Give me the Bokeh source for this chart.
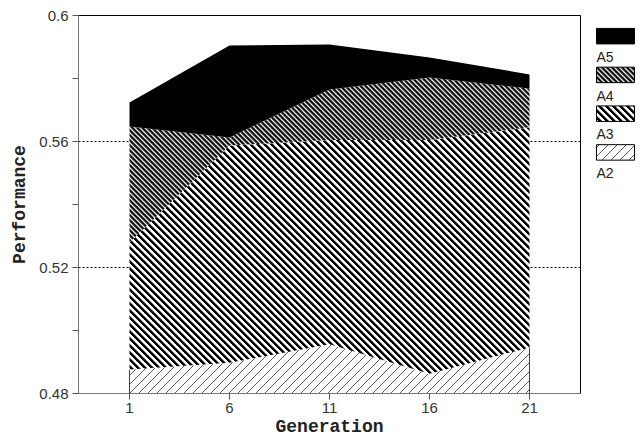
import zlib, struct, base64
from bokeh.plotting import figure
from bokeh.layouts import row
from bokeh.models import Range1d, FixedTicker, ColumnDataSource, ImageURLTexture
from bokeh.core.properties import value
from bokeh.embed import file_html
from bokeh.resources import INLINE

# ---- data ----
generations = [1, 6, 11, 16, 21]
a2 = [0.4876, 0.4898, 0.4956, 0.4863, 0.4946]
a3 = [0.0403, 0.0689, 0.0649, 0.0742, 0.0699]
a4 = [0.0369, 0.0026, 0.0160, 0.0198, 0.0123]
a5 = [0.0076, 0.0292, 0.0143, 0.0064, 0.0045]
series_names = ["A2", "A3", "A4", "A5"]
y_major_ticks = [0.48, 0.52, 0.56, 0.60]
y_minor_ticks = [0.50, 0.54, 0.58]
y_grid_ticks = [0.52, 0.56]

series = {"A2": a2, "A3": a3, "A4": a4, "A5": a5}


# ---- texture tiles (pure-python PNG) ----
def png_uri(pixels):
    h = len(pixels)
    w = len(pixels[0])
    raw = b"".join(b"\x00" + bytes(v for px in r for v in px) for r in pixels)

    def chunk(tag, data):
        c = tag + data
        return struct.pack(">I", len(data)) + c + struct.pack(">I", zlib.crc32(c) & 0xffffffff)

    png = (b"\x89PNG\r\n\x1a\n" + chunk(b"IHDR", struct.pack(">IIBBBBB", w, h, 8, 2, 0, 0, 0))
           + chunk(b"IDAT", zlib.compress(raw)) + chunk(b"IEND", b""))
    return "data:image/png;base64," + base64.b64encode(png).decode()


def diag_tile(period, shades, forward):
    # forward=True -> "/" lines ; False -> "\" lines
    tile = []
    for y in range(period):
        r = []
        for x in range(period):
            k = ((x + y) if forward else (x - y)) % period
            g = shades[k]
            r.append((g, g, g))
        tile.append(r)
    return tile


tex = {
    "A2": ImageURLTexture(url=png_uri(diag_tile(9, [90, 255, 255, 255, 255, 255, 255, 255, 255], True))),
    "A3": ImageURLTexture(url=png_uri(diag_tile(7, [0, 0, 0, 130, 255, 255, 255], False))),
    "A4": ImageURLTexture(url=png_uri(diag_tile(5, [0, 110, 235, 110, 30], False))),
}

# cumulative stacking
tops = {}
bottoms = {}
running = [0.0] * len(generations)
for n in series_names:
    bottoms[n] = list(running)
    running = [r + v for r, v in zip(running, series[n])]
    tops[n] = list(running)


def style(n):
    if n == "A5":
        return dict(fill_color="black")
    return dict(fill_color="white", hatch_pattern=value(n), hatch_extra={n: tex[n]})


p = figure(width=590, height=439, output_backend="svg", toolbar_location=None,
           x_range=Range1d(-1.55, 23.55), y_range=Range1d(0.48, 0.60),
           min_border_left=78, min_border_right=10, min_border_top=15,
           min_border_bottom=46, background_fill_color="white",
           border_fill_color="white")

for n in series_names:
    src = ColumnDataSource(dict(x=generations, y1=bottoms[n], y2=tops[n]))
    p.varea(x="x", y1="y1", y2="y2", source=src, **style(n))

# edges of the bottom area
p.segment(x0=[generations[0], generations[-1]], y0=[0, 0],
          x1=[generations[0], generations[-1]], y1=[a2[0], a2[-1]],
          line_color="#444444", line_width=1)

# axes
p.xaxis.ticker = FixedTicker(ticks=generations)
p.yaxis.ticker = FixedTicker(ticks=y_major_ticks, minor_ticks=y_minor_ticks)
p.yaxis.formatter.use_scientific = False
p.xaxis.axis_label = "Generation"
p.yaxis.axis_label = "Performance"
for ax in (p.xaxis[0], p.yaxis[0]):
    ax.axis_line_color = "#777777"
    ax.major_tick_line_color = "#555555"
    ax.minor_tick_line_color = "#555555"
    ax.major_tick_in = 0
    ax.major_tick_out = 6
    ax.minor_tick_in = 0
    ax.minor_tick_out = 6
    ax.major_label_text_font = "Liberation Sans"
    ax.major_label_text_font_size = "15px"
    ax.major_label_text_color = "#333333"
    ax.axis_label_text_font = "Liberation Mono"
    ax.axis_label_text_font_style = "bold"
    ax.axis_label_text_font_size = "18px"
    ax.axis_label_text_color = "#222222"
p.xaxis.minor_tick_line_color = None
p.xaxis.major_label_standoff = 3
p.yaxis.major_label_standoff = 4
p.xaxis.axis_label_standoff = 1
p.yaxis.axis_label_standoff = 6

p.xgrid.grid_line_color = None
p.ygrid.ticker = FixedTicker(ticks=y_grid_ticks)
p.ygrid.grid_line_color = "black"
p.ygrid.grid_line_dash = "2 2"
p.ygrid.grid_line_width = 1
p.outline_line_color = "black"
p.outline_line_width = 1

# ---- legend panel ----
leg = figure(width=54, height=439, output_backend="svg", toolbar_location=None,
             x_range=Range1d(0, 54), y_range=Range1d(439, 0),
             min_border=0, min_border_left=0, min_border_right=0,
             min_border_top=0, min_border_bottom=0)
leg.axis.visible = False
leg.grid.visible = False
leg.outline_line_color = None

legend_order = ["A5", "A4", "A3", "A2"]
box_top0, box_h, box_gap, box_left, box_w = 15, 18, 45, 6, 38
for i, n in enumerate(legend_order):
    t = box_top0 + box_gap * i
    leg.quad(left=[box_left], right=[box_left + box_w], top=[t], bottom=[t + box_h],
             line_color="black", line_width=1, **style(n))
    leg.text(x=[box_left], y=[t + box_h + 15], text=[n], text_font=value("Liberation Sans"),
             text_font_size="14px", text_color="#222222", text_baseline="middle",
             text_align="left")

layout = row(p, leg, spacing=0)
open("out.html", "w").write(file_html(layout, INLINE))
